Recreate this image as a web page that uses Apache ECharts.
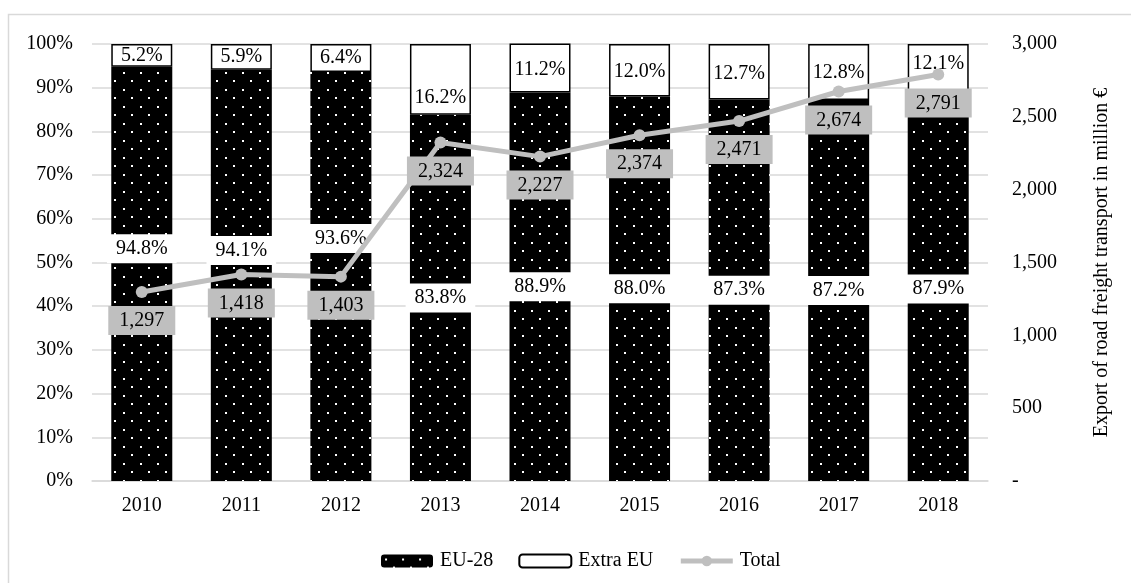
<!DOCTYPE html>
<html>
<head>
<meta charset="utf-8">
<style>
  html, body { margin: 0; padding: 0; background: #fff; }
  #chart { width: 1131px; height: 583px; }
</style>
<script src="https://cdn.jsdelivr.net/npm/echarts@6/dist/echarts.min.js"></script>
</head>
<body>
<div id="chart"></div>
<script>
// Years on the category axis
const years = ['2010', '2011', '2012', '2013', '2014', '2015', '2016', '2017', '2018'];
// Share of exports within the EU-28 and outside it (percent)
const euShare = [94.8, 94.1, 93.6, 83.8, 88.9, 88.0, 87.3, 87.2, 87.9];
const extraShare = [5.2, 5.9, 6.4, 16.2, 11.2, 12.0, 12.7, 12.8, 12.1];
// Total export of road freight transport, million €
const totalExport = [1297, 1418, 1403, 2324, 2227, 2374, 2471, 2674, 2791];

// Nudges for a few value labels so they stay clear of the line labels
const euLabelShift = [-25, -25, -38, 0, 0, 0, 0, 0, 0];
const extraLabelShift = [0, 0, 0, 18, 2, 2, 2, 1, -7];

const FONT = '"Liberation Serif", "DejaVu Serif", serif';
const LINE_GREY = '#bfbfbf';

// Black fill dotted with white points on a staggered grid
function dotPattern() {
  const c = document.createElement('canvas');
  c.width = 17; c.height = 17;
  const g = c.getContext('2d');
  g.fillStyle = '#000';
  g.fillRect(0, 0, 17, 17);
  g.fillStyle = '#fff';
  g.fillRect(4, 4, 2, 2);
  g.fillRect(12, 12, 2, 2);
  return c;
}
const dots = { image: dotPattern(), repeat: 'repeat' };

const chart = echarts.init(document.getElementById('chart'), null, { renderer: 'canvas' });

chart.setOption({
  animation: false,
  backgroundColor: '#fff',
  textStyle: { fontFamily: FONT, fontSize: 20, color: '#000' },
  graphic: [{
    type: 'rect',
    silent: true,
    shape: { x: 8.5, y: 14.5, width: 1140, height: 600 },
    style: { fill: 'none', stroke: '#d9d9d9', lineWidth: 1.5 }
  }],
  grid: { left: 92, right: 143, top: 44, bottom: 102 },
  legend: {
    left: 376,
    top: 546,
    itemWidth: 52,
    itemHeight: 13,
    itemGap: 25,
    textStyle: { fontFamily: FONT, fontSize: 20, color: '#000', padding: [0, 0, 0, 2] },
    data: [
      { name: 'EU-28' },
      { name: 'Extra EU' },
      {
        name: 'Total',
        itemStyle: { color: LINE_GREY },
        lineStyle: { color: LINE_GREY, width: 5 }
      }
    ]
  },
  xAxis: {
    type: 'category',
    data: years,
    axisLine: { lineStyle: { color: '#d9d9d9', width: 1.5 } },
    axisTick: { show: false },
    axisLabel: { fontFamily: FONT, fontSize: 20, color: '#000', margin: 15 }
  },
  yAxis: [{
    type: 'value',
    min: 0, max: 100, interval: 10,
    axisLine: { show: false },
    axisTick: { show: false },
    splitLine: { lineStyle: { color: '#d9d9d9', width: 1.5 } },
    axisLabel: { fontFamily: FONT, fontSize: 20, color: '#000', margin: 19, formatter: '{value}%' }
  }, {
    type: 'value',
    min: 0, max: 3000, interval: 500,
    position: 'right',
    name: 'Export of road freight transport in million €',
    nameLocation: 'middle',
    nameRotate: 90,
    nameGap: 104,
    nameTextStyle: { fontFamily: FONT, fontSize: 20, color: '#000' },
    axisLine: { show: false },
    axisTick: { show: false },
    splitLine: { show: false },
    axisLabel: {
      fontFamily: FONT, fontSize: 20, color: '#000', margin: 24,
      formatter: v => v === 0 ? '-' : v.toLocaleString('en-US')
    }
  }],
  series: [{
    name: 'EU-28',
    type: 'bar',
    stack: 'share',
    barWidth: 61,
    z: 2,
    itemStyle: { color: dots },
    data: euShare.map((v, i) => ({
      value: v,
      label: { offset: [0, euLabelShift[i]] }
    })),
    label: {
      show: true,
      position: 'inside',
      formatter: p => p.value.toFixed(1) + '%',
      fontFamily: FONT, fontSize: 20, color: '#000',
      backgroundColor: '#fff',
      padding: [5, 9, 4, 9]
    }
  }, {
    name: 'Extra EU',
    type: 'bar',
    stack: 'share',
    barWidth: 61,
    z: 2,
    itemStyle: { color: '#fff', borderColor: '#000', borderWidth: 1.5 },
    data: extraShare.map((v, i) => ({
      value: v,
      label: { offset: [0, extraLabelShift[i]] }
    })),
    label: {
      show: true,
      position: 'inside',
      formatter: p => p.value.toFixed(1) + '%',
      fontFamily: FONT, fontSize: 20, color: '#000'
    }
  }, {
    name: 'Total',
    type: 'line',
    yAxisIndex: 1,
    z: 5,
    data: totalExport,
    symbol: 'circle',
    symbolSize: 12,
    lineStyle: { color: LINE_GREY, width: 5 },
    itemStyle: { color: LINE_GREY },
    label: {
      show: true,
      position: 'bottom',
      distance: 8,
      formatter: p => p.value.toLocaleString('en-US'),
      fontFamily: FONT, fontSize: 20, color: '#000',
      backgroundColor: LINE_GREY,
      padding: [5, 11, 4, 11]
    }
  }]
});
</script>
</body>
</html>
